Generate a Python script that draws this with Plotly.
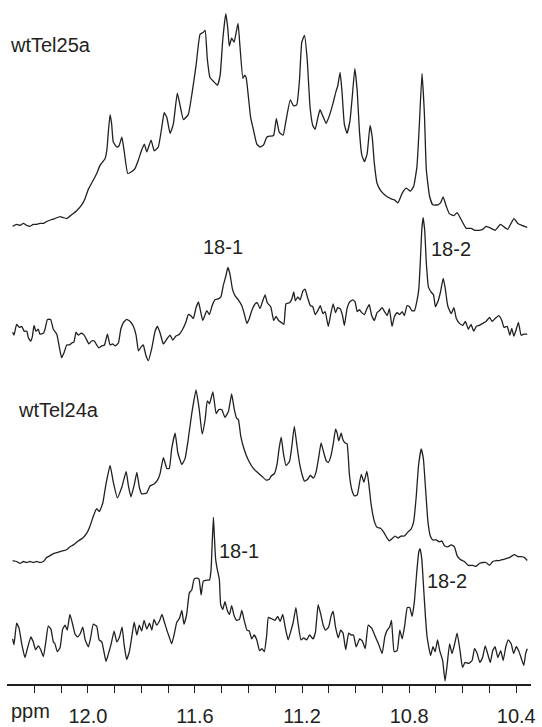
import plotly.graph_objects as go

INK = "#231f20"
FONT = "Liberation Sans, Arial, Helvetica, sans-serif"

# ---- wtTel25a (full spectrum) ----
ppm_25a = [12.281, 12.266, 12.253, 12.241, 12.228, 12.216, 12.204, 12.191, 12.179, 12.166,
           12.154, 12.135, 12.123, 12.104, 12.092, 12.079, 12.060, 12.042, 12.023, 12.011,
           11.998, 11.980, 11.967, 11.955, 11.936, 11.929, 11.923, 11.917, 11.911, 11.905,
           11.892, 11.884, 11.873, 11.865, 11.851, 11.836, 11.824, 11.811, 11.799, 11.789,
           11.780, 11.764, 11.752, 11.737, 11.724, 11.715, 11.705, 11.693, 11.681, 11.666,
           11.656, 11.643, 11.625, 11.612, 11.596, 11.581, 11.569, 11.562, 11.554, 11.544,
           11.531, 11.516, 11.506, 11.496, 11.485, 11.477, 11.472, 11.463, 11.454, 11.446,
           11.439, 11.432, 11.421, 11.415, 11.409, 11.400, 11.392, 11.382, 11.369, 11.357,
           11.344, 11.332, 11.322, 11.316, 11.306, 11.296, 11.285, 11.271, 11.260, 11.244,
           11.232, 11.220, 11.210, 11.201, 11.191, 11.181, 11.170, 11.160, 11.151, 11.141,
           11.133, 11.123, 11.110, 11.098, 11.085, 11.073, 11.067, 11.058, 11.051, 11.042,
           11.032, 11.021, 11.012, 11.003, 10.994, 10.986, 10.977, 10.967, 10.957, 10.946,
           10.938, 10.930, 10.920, 10.905, 10.886, 10.867, 10.855, 10.842, 10.826, 10.811,
           10.795, 10.783, 10.771, 10.762, 10.752, 10.743, 10.736, 10.724, 10.712, 10.693,
           10.683, 10.673, 10.662, 10.650, 10.633, 10.621, 10.606, 10.587, 10.569, 10.554,
           10.538, 10.525, 10.513, 10.494, 10.479, 10.459, 10.444, 10.432, 10.409, 10.394,
           10.379, 10.359]
int_25a = [1, 3, 2, 4, 2, 1, 3, 3, 4, 4,
           6, 8, 9, 11, 10, 9, 13, 17, 23, 29,
           39, 48, 55, 63, 70, 79, 99, 115, 105, 87,
           82, 83, 92, 79, 55, 57, 60, 69, 79, 85,
           77, 89, 78, 82, 102, 117, 112, 96, 105, 137,
           125, 110, 115, 135, 165, 197, 199, 201, 172, 153,
           149, 145, 155, 192, 218, 202, 185, 193, 189, 199,
           208, 185, 152, 155, 153, 132, 112, 100, 85, 82,
           84, 92, 93, 93, 94, 111, 97, 94, 109, 130,
           124, 125, 149, 189, 196, 172, 122, 104, 100, 112,
           120, 114, 106, 114, 126, 139, 144, 158, 139, 105,
           96, 109, 135, 162, 139, 99, 74, 67, 75, 104,
           92, 65, 45, 37, 32, 29, 28, 25, 35, 40,
           37, 42, 62, 105, 157, 115, 59, 32, 23, 23,
           25, 31, 22, 14, 12, 15, 8, -1, -1, -3,
           -3, -2, 1, -1, -3, 3, 0, -2, 9, 4,
           2, 0]

# ---- wtTel25a difference (18-1 / 18-2) ----
ppm_25a_d = [12.281, 12.276, 12.266, 12.256, 12.247, 12.238, 12.228, 12.222, 12.213, 12.207,
             12.201, 12.194, 12.185, 12.179, 12.166, 12.160, 12.151, 12.139, 12.129, 12.116,
             12.108, 12.098, 12.089, 12.079, 12.069, 12.060, 12.052, 12.044, 12.036, 12.025,
             12.014, 12.004, 11.996, 11.986, 11.976, 11.967, 11.958, 11.948, 11.938, 11.927,
             11.917, 11.907, 11.898, 11.886, 11.877, 11.867, 11.855, 11.842, 11.830, 11.820,
             11.811, 11.801, 11.793, 11.784, 11.774, 11.761, 11.749, 11.740, 11.730, 11.718,
             11.705, 11.693, 11.683, 11.671, 11.658, 11.646, 11.633, 11.625, 11.616, 11.606,
             11.596, 11.587, 11.581, 11.571, 11.562, 11.556, 11.546, 11.536, 11.525, 11.513,
             11.503, 11.494, 11.485, 11.477, 11.469, 11.460, 11.450, 11.438, 11.425, 11.415,
             11.406, 11.397, 11.388, 11.375, 11.367, 11.357, 11.347, 11.338, 11.330, 11.317,
             11.306, 11.297, 11.288, 11.278, 11.268, 11.260, 11.247, 11.238, 11.231, 11.225,
             11.216, 11.207, 11.197, 11.189, 11.179, 11.169, 11.160, 11.151, 11.141, 11.132,
             11.122, 11.114, 11.102, 11.094, 11.084, 11.075, 11.067, 11.058, 11.049, 11.042,
             11.032, 11.022, 11.011, 11.002, 10.994, 10.986, 10.977, 10.967, 10.958, 10.949,
             10.940, 10.930, 10.920, 10.911, 10.901, 10.892, 10.882, 10.874, 10.864, 10.855,
             10.845, 10.836, 10.826, 10.818, 10.808, 10.799, 10.790, 10.780, 10.771, 10.764,
             10.758, 10.753, 10.748, 10.742, 10.736, 10.728, 10.718, 10.709, 10.702, 10.693,
             10.683, 10.673, 10.666, 10.656, 10.643, 10.633, 10.624, 10.612, 10.600, 10.590,
             10.579, 10.569, 10.559, 10.549, 10.538, 10.525, 10.513, 10.500, 10.490, 10.479,
             10.465, 10.454, 10.446, 10.434, 10.424, 10.417, 10.409, 10.401, 10.392, 10.382,
             10.372, 10.359]
int_25a_d = [1, -2, 9, 6, 7, 2, 2, -5, -8, -3,
             8, 2, 4, -1, 0, 4, 14, 14, 4, -1,
             -12, -25, -20, -12, -12, -10, -9, 1, -2, 0,
             -2, -7, -11, -8, -8, -12, -15, -13, -12, -1,
             -12, -11, -13, -10, 4, 11, 14, 12, 7, -2,
             -18, -14, -12, -22, -28, -15, 2, 7, 0, -11,
             -6, -2, -7, -3, -1, 4, 12, 19, 18, 15,
             26, 32, 25, 13, 19, 23, 19, 28, 34, 35,
             37, 49, 58, 67, 60, 45, 38, 34, 28, 19,
             10, 15, 23, 30, 31, 25, 33, 39, 31, 27,
             13, 17, 13, 11, 9, 30, 31, 35, 42, 33,
             37, 34, 43, 45, 36, 28, 27, 19, 23, 28,
             20, 22, 7, 18, 30, 21, 26, 25, 18, 8,
             25, 32, 34, 32, 22, 24, 21, 19, 25, 29,
             18, 13, 21, 23, 26, 22, 18, 25, 7, 17,
             21, 19, 22, 18, 28, 27, 23, 23, 33, 45,
             75, 105, 118, 105, 72, 47, 42, 39, 27, 32,
             42, 56, 47, 28, 20, 26, 15, 10, 8, 12,
             4, 9, 2, 7, 8, 10, 12, 16, 12, 15,
             18, 13, 6, 7, -2, 5, -3, 3, 11, -2,
             -1, -1]

# ---- wtTel24a (full spectrum) ----
ppm_24a = [12.281, 12.266, 12.253, 12.241, 12.228, 12.216, 12.204, 12.191, 12.179, 12.166,
           12.154, 12.141, 12.129, 12.116, 12.104, 12.092, 12.079, 12.067, 12.054, 12.036,
           12.019, 12.004, 11.992, 11.980, 11.967, 11.957, 11.944, 11.933, 11.917, 11.905,
           11.890, 11.873, 11.857, 11.849, 11.839, 11.827, 11.817, 11.808, 11.799, 11.780,
           11.768, 11.753, 11.740, 11.730, 11.718, 11.705, 11.696, 11.687, 11.674, 11.664,
           11.649, 11.637, 11.625, 11.612, 11.596, 11.584, 11.573, 11.562, 11.554, 11.546,
           11.533, 11.521, 11.511, 11.500, 11.488, 11.475, 11.463, 11.453, 11.444, 11.438,
           11.429, 11.417, 11.400, 11.382, 11.367, 11.350, 11.334, 11.322, 11.316, 11.303,
           11.293, 11.286, 11.278, 11.270, 11.260, 11.247, 11.238, 11.229, 11.219, 11.210,
           11.197, 11.191, 11.179, 11.169, 11.158, 11.148, 11.138, 11.129, 11.120, 11.110,
           11.102, 11.092, 11.083, 11.075, 11.069, 11.063, 11.054, 11.047, 11.039, 11.032,
           11.023, 11.014, 11.004, 10.994, 10.988, 10.979, 10.969, 10.958, 10.951, 10.942,
           10.930, 10.920, 10.907, 10.895, 10.883, 10.874, 10.865, 10.853, 10.842, 10.830,
           10.818, 10.805, 10.793, 10.783, 10.774, 10.765, 10.755, 10.747, 10.739, 10.730,
           10.721, 10.712, 10.699, 10.687, 10.678, 10.668, 10.656, 10.643, 10.631, 10.621,
           10.609, 10.594, 10.579, 10.562, 10.550, 10.538, 10.525, 10.513, 10.500, 10.488,
           10.475, 10.463, 10.450, 10.438, 10.426, 10.407, 10.394, 10.382, 10.369, 10.359]
int_24a = [2, 1, -1, 1, 0, 1, 0, 1, 0, 1,
           5, 7, 9, 10, 11, 12, 13, 16, 18, 22,
           25, 30, 37, 47, 55, 52, 61, 79, 99, 82,
           66, 77, 93, 79, 67, 79, 92, 77, 70, 71,
           78, 80, 84, 91, 107, 96, 96, 116, 132, 112,
           100, 106, 126, 152, 176, 156, 131, 146, 165, 162,
           174, 152, 156, 156, 148, 154, 172, 156, 147, 146,
           129, 116, 104, 96, 92, 88, 84, 85, 88, 91,
           101, 116, 128, 112, 99, 103, 119, 139, 119, 102,
           87, 83, 85, 89, 86, 92, 107, 122, 113, 104,
           102, 109, 122, 136, 132, 124, 132, 125, 122, 121,
           89, 74, 68, 69, 77, 90, 82, 93, 81, 59,
           42, 36, 35, 31, 25, 22, 24, 27, 25, 27,
           27, 31, 34, 42, 66, 99, 116, 106, 76, 42,
           27, 23, 23, 21, 22, 17, 16, 18, 16, 7,
           3, 1, -3, -3, -4, -1, 0, 0, -3, 1,
           2, 2, 3, 4, 5, 8, 6, 6, 5, 2]

# ---- wtTel24a difference (18-1 / 18-2) ----
ppm_24a_d = [12.281, 12.276, 12.266, 12.257, 12.247, 12.235, 12.225, 12.213, 12.204, 12.195,
             12.185, 12.176, 12.166, 12.157, 12.148, 12.138, 12.129, 12.123, 12.114, 12.104,
             12.094, 12.085, 12.077, 12.067, 12.056, 12.048, 12.039, 12.029, 12.019, 12.010,
             11.998, 11.989, 11.980, 11.967, 11.958, 11.948, 11.940, 11.932, 11.923, 11.913,
             11.902, 11.892, 11.882, 11.872, 11.865, 11.855, 11.845, 11.836, 11.827, 11.817,
             11.808, 11.799, 11.790, 11.780, 11.770, 11.761, 11.753, 11.743, 11.733, 11.723,
             11.714, 11.705, 11.696, 11.687, 11.678, 11.668, 11.658, 11.649, 11.641, 11.631,
             11.621, 11.612, 11.603, 11.593, 11.585, 11.577, 11.569, 11.556, 11.546, 11.540,
             11.535, 11.531, 11.527, 11.523, 11.516, 11.509, 11.504, 11.496, 11.488, 11.479,
             11.471, 11.463, 11.454, 11.444, 11.434, 11.425, 11.417, 11.406, 11.397, 11.388,
             11.379, 11.369, 11.359, 11.350, 11.341, 11.332, 11.326, 11.317, 11.301, 11.291,
             11.282, 11.272, 11.263, 11.252, 11.243, 11.233, 11.223, 11.215, 11.204, 11.194,
             11.183, 11.172, 11.159, 11.150, 11.140, 11.130, 11.121, 11.112, 11.101, 11.092,
             11.084, 11.075, 11.065, 11.056, 11.047, 11.037, 11.026, 11.017, 11.008, 10.998,
             10.985, 10.975, 10.964, 10.953, 10.940, 10.929, 10.921, 10.912, 10.901, 10.891,
             10.882, 10.873, 10.866, 10.856, 10.845, 10.835, 10.826, 10.817, 10.807, 10.798,
             10.789, 10.781, 10.772, 10.764, 10.759, 10.753, 10.746, 10.739, 10.733, 10.727,
             10.720, 10.711,
             10.703, 10.694, 10.686, 10.675, 10.666, 10.658, 10.649, 10.640, 10.630, 10.621,
             10.610, 10.601, 10.591, 10.578, 10.565, 10.556, 10.546, 10.536, 10.526, 10.516,
             10.507, 10.497, 10.488, 10.479, 10.469, 10.458, 10.449, 10.439, 10.430, 10.419,
             10.410, 10.400, 10.391, 10.381, 10.372, 10.365, 10.359]
int_24a_d = [3, -3, 19, 14, -2, -16, -6, 5, 0, -8,
             -4, -8, -15, 0, 16, 13, 0, -2, -10, -6,
             13, 17, 12, 28, 17, 8, 5, 8, 15, 2,
             -5, 5, 18, 16, 2, 0, -10, -20, -12, -2,
             11, 0, 5, 15, -2, -18, -10, 5, 20, 7,
             17, 11, 22, 13, 19, 12, 23, 17, 21, 28,
             20, 12, 5, -2, 7, 20, 24, 32, 18, 28,
             50, 53, 64, 65, 64, 48, 62, 63, 63, 73,
             105, 127, 105, 85, 73, 64, 38, 33, 41, 32,
             28, 37, 27, 22, 23, 32, 23, 12, 11, 3,
             7, 2, -9, -7, -10, 7, 25, 24, 22, 26,
             21, 28, 15, 2, 10, 20, 35, 19, 2, 4,
             2, 7, 3, 10, 38, 28, 17, 12, 15, 26,
             31, 15, 4, 12, 9, -8, 9, 7, 7, -5,
             3, 1, -7, 17, 14, 7, 2, -4, -12, 5,
             12, 15, 22, -10, -9, 12, 3, 16, 35, 35,
             26, 40, 70, 92, 95, 85, 55, 25, 5, -5,
             -14, -5,
             -10, 2, -9, -19, -40, -23, -2, -12, -2, 9,
             -9, -26, -21, -22, -19, -7, -12, -21, -16, -4,
             -12, -21, -9, -5, -16, -9, -19, -5, 2, -2,
             -12, -5, -9, -17, -24, -12, -7]

major_ticks = [12.0, 11.6, 11.2, 10.8, 10.4]
major_labels = ["12.0", "11.6", "11.2", "10.8", "10.4"]
minor_ticks = [12.2, 12.1, 12.0, 11.9, 11.8, 11.7, 11.6, 11.5, 11.4, 11.3,
               11.2, 11.1, 11.0, 10.9, 10.8, 10.7, 10.6, 10.5, 10.4]

# stacking offsets (vertical position of each trace's baseline)
spectra = [
    (ppm_25a, int_25a, 466),
    (ppm_25a_d, int_25a_d, 358),
    (ppm_24a, int_24a, 124),
    (ppm_24a_d, int_24a_d, 43),
]

fig = go.Figure()
for ppm, inten, off in spectra:
    fig.add_trace(go.Scatter(
        x=ppm, y=[v + off for v in inten], mode="lines",
        line=dict(color=INK, width=1.3, shape="spline", smoothing=0.4),
        hoverinfo="skip", showlegend=False))

labels = [
    ("wtTel25a", 12.297, 652, "left"),
    ("wtTel24a", 12.268, 280, "left"),
    ("18-1", 11.495, 446, "center"),
    ("18-2", 10.644, 444, "center"),
    ("18-1", 11.435, 136, "center"),
    ("18-2", 10.658, 105, "center"),
]
for text, x, y, anchor in labels:
    fig.add_annotation(x=x, y=y, xref="x", yref="y", text=text, showarrow=False,
                       xanchor=anchor, yanchor="middle",
                       font=dict(family=FONT, size=20, color=INK))

# axis unit label, left of the tick labels (below the plot area)
fig.add_annotation(x=12.216, y=-0.040, xref="x", yref="paper", text="ppm",
                   showarrow=False, xanchor="center", yanchor="middle",
                   font=dict(family=FONT, size=20, color=INK))

fig.update_layout(
    width=542, height=727,
    margin=dict(l=7, r=11, t=0, b=29),
    paper_bgcolor="white", plot_bgcolor="white",
    xaxis=dict(
        range=[12.302, 10.345], showline=True, linecolor=INK, linewidth=1.5,
        showgrid=False, zeroline=False,
        tickmode="array", tickvals=major_ticks, ticktext=major_labels,
        ticks="outside", ticklen=7, tickwidth=1.2, tickcolor=INK,
        ticklabelstandoff=6,
        tickfont=dict(family=FONT, size=20, color=INK),
        minor=dict(tickmode="array", tickvals=minor_ticks, ticks="outside",
                   ticklen=7, tickwidth=1.2, tickcolor=INK, showgrid=False),
    ),
    yaxis=dict(visible=False, range=[0, 698]),
)

fig.write_html(
    "out.html",
    config={"displayModeBar": False},
    post_script="document.body.style.margin='0px';document.body.style.overflow='hidden';",
)
